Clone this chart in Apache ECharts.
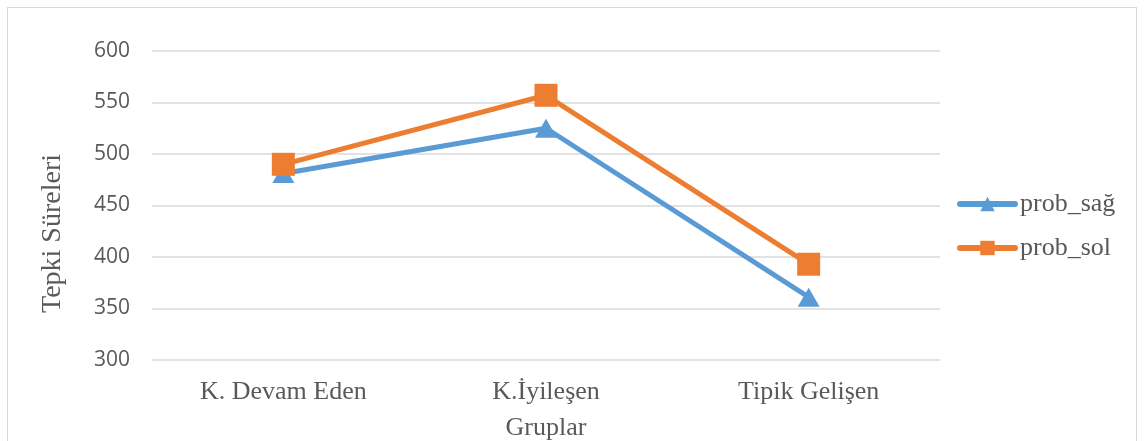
<!DOCTYPE html>
<html>
<head>
<meta charset="utf-8">
<script src="https://cdn.jsdelivr.net/npm/echarts@6/dist/echarts.min.js"></script>
<style>
  html, body { margin: 0; padding: 0; background: #fff; }
  #frame { position: absolute; left: 7px; top: 7px; width: 1130px; height: 450px; border: 1px solid #d9d9d9; box-sizing: border-box; }
  #chart { position: absolute; left: 0; top: 0; width: 1144px; height: 441px; }
</style>
</head>
<body>
<div id="frame"></div>
<div id="chart"></div>
<script>
// groups on the x axis
const categories = ['K. Devam Eden', 'K.İyileşen', 'Tipik Gelişen'];
// response times
const probSag = [481, 525, 361];
const probSol = [490, 557, 393];

const serif = '"Liberation Serif", "DejaVu Serif", serif';
const grey = '#595959';

const chart = echarts.init(document.getElementById('chart'));
chart.setOption({
  animation: false,
  grid: { left: 152, right: 204, top: 51, bottom: 81, outerBoundsMode: 'none' },
  legend: {
    orient: 'vertical',
    left: 952,
    top: 186,
    itemGap: 18,
    itemWidth: 55,
    itemHeight: 18,
    lineStyle: { width: 6, cap: 'round' },
    textStyle: { fontFamily: serif, fontSize: 26, color: grey },
    data: ['prob_sağ', 'prob_sol'],
  },
  xAxis: {
    type: 'category',
    data: categories,
    name: 'Gruplar',
    nameLocation: 'middle',
    nameGap: 55,
    nameTextStyle: { fontFamily: serif, fontSize: 26, color: grey },
    axisLine: { show: false },
    axisTick: { show: false },
    axisLabel: { fontFamily: serif, fontSize: 26, color: grey, margin: 19 },
  },
  yAxis: {
    type: 'value',
    min: 300,
    max: 600,
    interval: 50,
    name: 'Tepki Süreleri',
    nameLocation: 'middle',
    nameGap: 85,
    nameTextStyle: { fontFamily: serif, fontSize: 28, color: grey, padding: [0, 56, 0, 0] },
    axisLine: { show: false },
    axisTick: { show: false },
    axisLabel: { fontFamily: '"Open Sans", sans-serif', fontSize: 21, color: grey, margin: 22 },
    splitLine: { lineStyle: { color: '#d9d9d9', width: 1.5 } },
  },
  series: [
    {
      name: 'prob_sağ',
      type: 'line',
      data: probSag,
      symbol: 'triangle',
      symbolSize: [22, 19],
      lineStyle: { color: '#5b9bd5', width: 5 },
      itemStyle: { color: '#5b9bd5' },
    },
    {
      name: 'prob_sol',
      type: 'line',
      data: probSol,
      symbol: 'rect',
      symbolSize: 23,
      lineStyle: { color: '#ed7d31', width: 5 },
      itemStyle: { color: '#ed7d31' },
    },
  ],
});
</script>
</body>
</html>
